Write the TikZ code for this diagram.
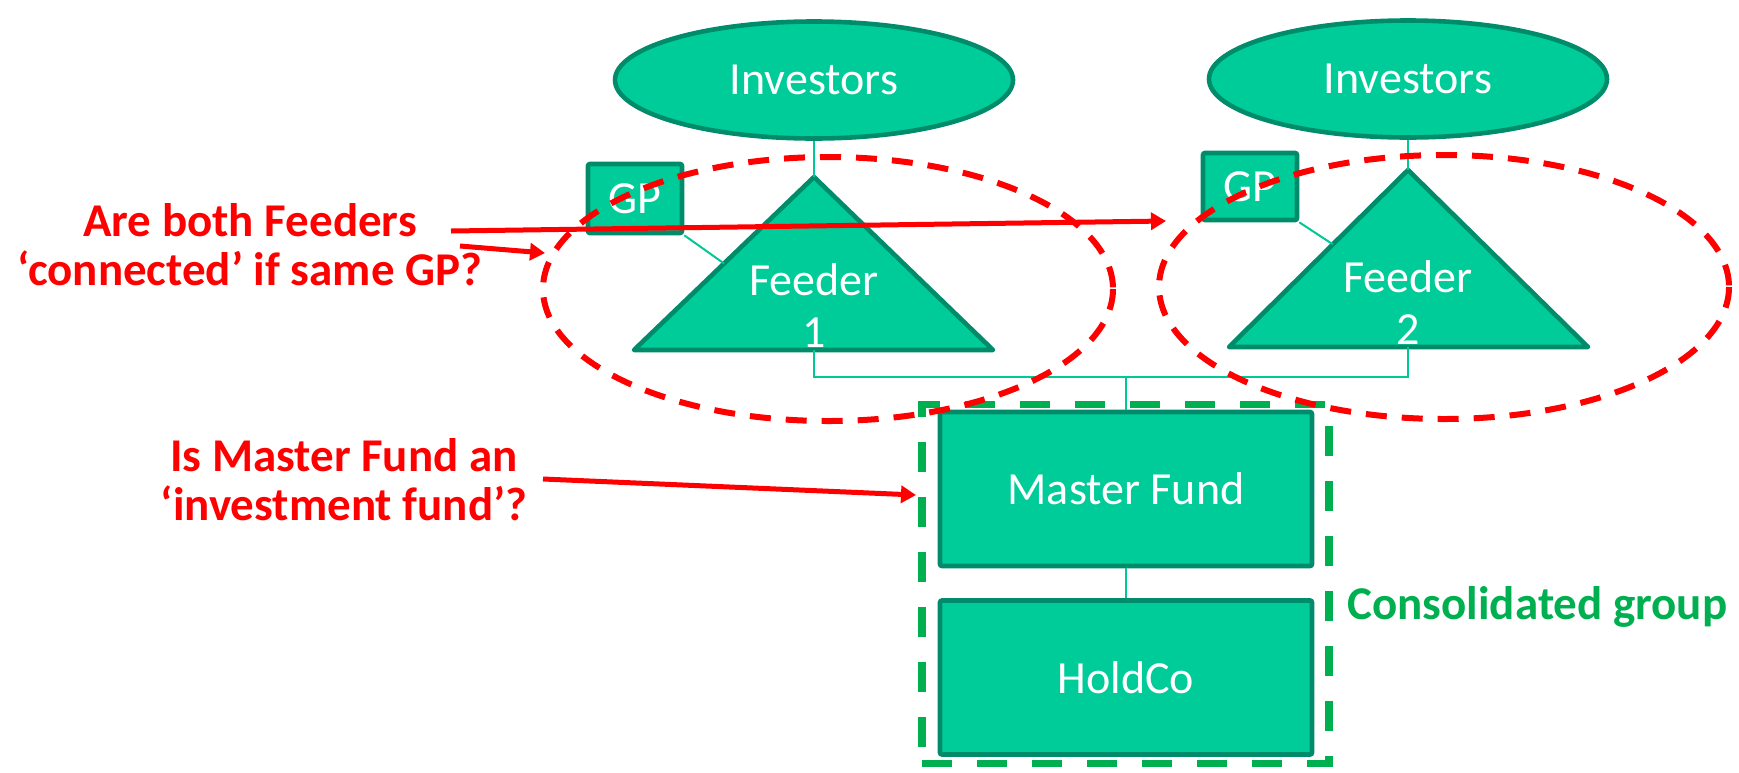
\documentclass[tikz,border=0pt]{standalone}
\usepackage{fontspec}
\setmainfont{Carlito}
\usetikzlibrary{shapes.geometric,arrows.meta,calc}
\definecolor{fundfill}{RGB}{0,204,153}
\definecolor{funddraw}{RGB}{0,140,106}
\definecolor{linkcol}{RGB}{0,200,150}
\definecolor{grpgreen}{RGB}{0,176,80}
\definecolor{qred}{RGB}{255,0,0}

\begin{document}
\begin{tikzpicture}[x=0.5pt,y=-0.5pt,
  entity/.style={fill=fundfill,draw=funddraw,line width=2.3pt,text=white,
    font=\fontsize{23}{26}\selectfont,inner sep=0pt},
  investors/.style={entity,ellipse,minimum width=199pt,minimum height=58.5pt},
  box/.style={entity,rectangle,rounded corners=1pt},
  feeder/.style={fill=fundfill,draw=funddraw,line width=2.3pt,line join=round},
  label/.style={text=white,font=\fontsize{23}{26}\selectfont,align=center,inner sep=0pt},
  link/.style={draw=linkcol,line width=1pt},
  question/.style={text=qred,font=\bfseries\fontsize{23.5}{24.5}\selectfont,align=center},
  ask/.style={draw=qred,line width=2.5pt,-{Triangle[length=7.5pt,width=8.5pt]}},
  ring/.style={draw=qred,line width=3pt,dash pattern=on 10.5pt off 7.5pt},
  group/.style={draw=grpgreen,line width=3.8pt,dash pattern=on 15pt off 12.5pt},
]
\useasboundingbox (0,0) rectangle (1739,772);

% investors
\node[investors] (inv1) at (814,80) {Investors};
\node[investors] (inv2) at (1408,79) {Investors};

% feeder triangles
\coordinate (t1a) at (814,177);
\coordinate (t1l) at (634,350);
\coordinate (t1r) at (993,350);
\coordinate (t1b) at (814,350);
\coordinate (t2a) at (1408,170);
\coordinate (t2l) at (1229,347);
\coordinate (t2r) at (1588,347);
\coordinate (t2b) at (1408,347);
\draw[feeder] (t1a) -- (t1l) -- (t1r) -- cycle;
\draw[feeder] (t2a) -- (t2l) -- (t2r) -- cycle;
\node[label] (f1) at (814,306) {Feeder\\1};
\node[label] (f2) at (1408,303) {Feeder\\2};

% general partners
\node[box,minimum width=47pt,minimum height=34.5pt] (gp1) at (635,198.5) {GP};
\node[box,minimum width=47pt,minimum height=33.5pt] (gp2) at (1250,186.5) {GP};

% master fund and holding company
\node[box,minimum width=186pt,minimum height=77pt] (mf) at (1126,489) {Master Fund};
\node[box,minimum width=186pt,minimum height=77pt] (hc) at (1126,677.5) {HoldCo};

% ownership links
\draw[link] (inv1.south) -- (t1a);
\draw[link] (inv2.south) -- (t2a);
\draw[link] (gp1.south east) -- ($(t1a)!0.5!(t1l)$);
\draw[link] (gp2.south east) -- ($(t2a)!0.42!(t2l)$);
\coordinate (bus) at (1126,377);
\draw[link] (t1b) |- (bus) -| (t2b);
\draw[link] (bus) -- (mf.north);
\draw[link] (mf.south) -- (hc.north);

% consolidated group
\node[group,rectangle,minimum width=203.5pt,minimum height=179.5pt,inner sep=0pt] (grp) at (1125.5,584) {};
\node[text=grpgreen,font=\bfseries\fontsize{23.5}{24.5}\selectfont,anchor=west,inner sep=0pt] (grplbl) at (1347,607) {Consolidated group};

% questions
\draw[ring] (828,289) ellipse [x radius=285, y radius=132];
\draw[ring] (1444,287) ellipse [x radius=285, y radius=132];

\node[question] (q1) at (250,244.5) {Are both Feeders\\‘connected’ if same GP?};
\node[question] (q2) at (344,480) {Is Master Fund an\\‘investment fund’?};

\coordinate (a1s) at (451,231);
\coordinate (a1e) at (1166,221);
\coordinate (a2s) at (460,246);
\coordinate (a2e) at (545,253);
\coordinate (a3s) at (543,479);
\coordinate (a3e) at (916,495);
\draw[ask] (a1s) -- (a1e);
\draw[ask] (a2s) -- (a2e);
\draw[ask] (a3s) -- (a3e);
\end{tikzpicture}
\end{document}
